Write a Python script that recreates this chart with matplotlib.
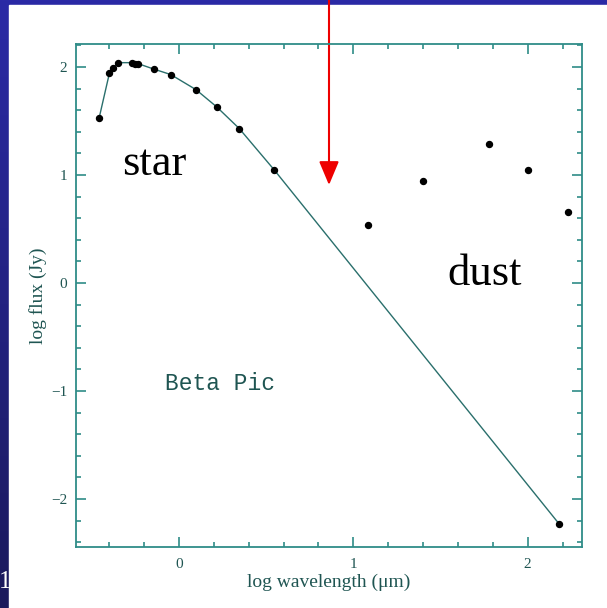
import numpy as np
import matplotlib
matplotlib.use("Agg")
import matplotlib.pyplot as plt
from matplotlib.ticker import MultipleLocator

# Beta Pic spectral energy distribution
star_logwl = [-0.458, -0.399, -0.376, -0.347, -0.267, -0.252, -0.233, -0.143,
              -0.047, 0.098, 0.217, 0.346, 0.545]
star_logflux = [1.525, 1.94, 1.99, 2.04, 2.04, 2.03, 2.03, 1.98,
                1.93, 1.79, 1.63, 1.43, 1.05]

# photosphere model continues as a Rayleigh-Jeans tail to the mm point
model_logwl = star_logwl + [2.18]
model_logflux = star_logflux + [-2.23]

dust_logwl = [1.084, 1.398, 1.78, 2.003, 2.233, 2.18]
dust_logflux = [0.537, 0.947, 1.29, 1.046, 0.657, -2.23]

W, H = 607, 608
teal = "#2f8c88"
txt = "#1f5552"

fig = plt.figure(figsize=(W / 100, H / 100), dpi=100)

# slide background: blue gradient with a white panel
bg = fig.add_axes([0, 0, 1, 1])
grad = np.linspace(0, 1, 256).reshape(-1, 1)
blues = matplotlib.colors.LinearSegmentedColormap.from_list(
    "slide", ["#2b2aa6", "#1b1a5c"])
bg.imshow(grad, aspect="auto", cmap=blues, extent=[0, W, 0, H])
bg.add_patch(plt.Rectangle((9, 0), W - 9, H - 5, color="white", zorder=2))
bg.set_xlim(0, W)
bg.set_ylim(0, H)
bg.axis("off")
bg.text(-1, H - 582, "1", color="white", fontsize=18, family="Liberation Serif",
        ha="left", va="center", zorder=3)

ax = fig.add_axes([75.7 / W, 1 - 546.7 / H, (581.7 - 75.7) / W, (546.7 - 44.3) / H])
ax.set_facecolor("none")
ax.plot(model_logwl, model_logflux, color="#2a6f6c", lw=1.0, zorder=2)
ax.plot(star_logwl, star_logflux, "o", color="black", ms=4.3, zorder=3)
ax.plot(dust_logwl, dust_logflux, "o", color="black", ms=4.3, zorder=3)

ax.set_xlim(-0.592, 2.31)
ax.set_ylim(-2.442, 2.21)
ax.xaxis.set_major_locator(MultipleLocator(1))
ax.xaxis.set_minor_locator(MultipleLocator(0.2))
ax.yaxis.set_major_locator(MultipleLocator(1))
ax.yaxis.set_minor_locator(MultipleLocator(0.2))
ax.tick_params(which="both", direction="in", top=True, right=True,
               color=teal, width=1.2, labelcolor=txt, labelsize=11)
ax.tick_params(which="major", length=7.5)
ax.tick_params(which="minor", length=3.8)
ax.tick_params(axis="x", pad=8)
ax.tick_params(axis="y", pad=6)
for lab in ax.get_xticklabels() + ax.get_yticklabels():
    lab.set_family("Liberation Serif")
for s in ax.spines.values():
    s.set_color(teal)
    s.set_linewidth(1.3)

ax.set_xlabel("log wavelength (μm)", family="Liberation Serif", fontsize=14,
              color=txt, labelpad=2)
ax.set_ylabel("log flux (Jy)", family="Liberation Serif", fontsize=14,
              color=txt, labelpad=3)

ax.text(0.235, -0.93, "Beta Pic", family="Liberation Mono", fontsize=16.5,
        color=txt, ha="center", va="center")
ax.text(-0.14, 1.1, "star", family="Liberation Serif", fontsize=32,
        color="black", ha="center", va="center")
ax.text(1.755, 0.08, "dust", family="Liberation Serif", fontsize=32,
        color="black", ha="center", va="center")

# red arrow dropping from the slide top into the plot
bg.annotate("", xy=(329, H - 185), xytext=(329, H + 2),
            arrowprops=dict(arrowstyle="-|>,head_length=1.0,head_width=0.42",
                            color="#ee0000", lw=1.5, mutation_scale=14.5,
                            shrinkA=0, shrinkB=0),
            zorder=5, annotation_clip=False)

fig.savefig("out.png", dpi=100)
